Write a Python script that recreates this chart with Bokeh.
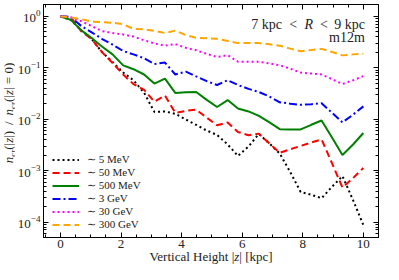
from bokeh.plotting import figure
from bokeh.layouts import row, column
from bokeh.models import (Legend, LegendItem, Label, LinearAxis, LogAxis, Div,
                          SingleIntervalTicker, LogTicker, CustomLabelingPolicy)
from bokeh.embed import file_html
from bokeh.resources import INLINE

# ---------------- data ----------------
z = [0.0, 0.34, 0.69, 1.03, 1.38, 1.72, 2.07, 2.41, 2.76, 3.10,
     3.45, 3.79, 4.14, 4.48, 4.83, 5.17, 5.52, 5.86, 6.21, 6.55,
     6.90, 7.24, 7.59, 7.93, 8.28, 8.62, 8.97, 9.31, 9.66, 10.0]

n_5MeV = [1.0, 0.860, 0.536, 0.364, 0.200, 0.130, 0.0810, 0.0574, 0.0329, 0.0139,
          0.0142, 0.01277, 0.00987, 0.00779, 0.00602, 0.00496, 0.00323, 0.00193, 0.00296, 0.00518,
          0.00337, 0.00215, 0.000930, 0.000385, 0.000339, 0.000291, 0.000488, 0.000783, 0.000267, 0.0000875]
n_50MeV = [1.0, 0.979, 0.514, 0.364, 0.200, 0.1245, 0.0743, 0.0484, 0.0374, 0.0219,
           0.0289, 0.0133, 0.01454, 0.01537, 0.01075, 0.00763, 0.00868, 0.00565, 0.00490, 0.00525,
           0.00337, 0.00222, 0.00261, 0.00303, 0.00352, 0.00406, 0.00137, 0.000468, 0.000718, 0.00113]
n_500MeV = [1.0, 0.860, 0.536, 0.380, 0.258, 0.183, 0.112, 0.0941, 0.0743, 0.0494,
            0.0618, 0.0325, 0.0336, 0.0339, 0.0238, 0.0173, 0.0236, 0.0162, 0.0142, 0.0116,
            0.00868, 0.00642, 0.00634, 0.00634, 0.00780, 0.00946, 0.00436, 0.00201, 0.00323, 0.00541]
n_3GeV = [1.0, 0.979, 0.651, 0.492, 0.364, 0.282, 0.213, 0.183, 0.154, 0.119,
          0.127, 0.0743, 0.0846, 0.0682, 0.0550, 0.0464, 0.0574, 0.0464, 0.0390, 0.0339,
          0.0277, 0.0214, 0.0201, 0.0191, 0.0196, 0.0205, 0.0133, 0.00868, 0.0123, 0.0178]
n_30GeV = [1.0, 0.966, 0.807, 0.651, 0.518, 0.478, 0.446, 0.406, 0.345, 0.300,
           0.270, 0.290, 0.245, 0.221, 0.187, 0.163, 0.176, 0.132, 0.132, 0.132,
           0.122, 0.112, 0.0962, 0.0810, 0.0776, 0.0743, 0.0600, 0.0484, 0.0574, 0.0691]
n_300GeV = [1.0, 0.958, 0.887, 0.796, 0.773, 0.756, 0.709, 0.572, 0.560, 0.525,
            0.478, 0.530, 0.433, 0.384, 0.377, 0.367, 0.334, 0.303, 0.303, 0.303,
            0.288, 0.270, 0.237, 0.211, 0.222, 0.234, 0.204, 0.175, 0.183, 0.189]

labels = ["\u223c 5 MeV", "\u223c 50 MeV", "\u223c 500 MeV",
          "\u223c 3 GeV", "\u223c 30 GeV", "\u223c 300 GeV"]
series = [n_5MeV, n_50MeV, n_500MeV, n_3GeV, n_30GeV, n_300GeV]
colors = ["black", "#ff0000", "#008000", "#0000ff", "#ff00ff", "#ffa500"]
dashes = ["2 3", "7 4", "solid", "8 3 2 3", "2 3", "7 4"]

FONT = "Liberation Serif"
TXT = "#222222"

YLAB_W = 14
MAIN_W = 383 - YLAB_W
MAIN_H = 250
XLAB_H = 14

p = figure(width=MAIN_W, height=MAIN_H, x_range=(-0.56, 10.5), y_range=(5.0e-5, 1.71),
           y_axis_type="log", output_backend="svg", toolbar_location=None,
           min_border_left=27, min_border_right=2, min_border_top=2, min_border_bottom=0)
p.xgrid.visible = False
p.ygrid.visible = False
p.outline_line_color = "black"
p.outline_line_width = 1
p.background_fill_color = "white"
p.border_fill_color = "white"

p.xaxis.ticker = SingleIntervalTicker(interval=2, num_minor_ticks=4)
p.yaxis.ticker = LogTicker(num_minor_ticks=10)

def style_axis(ax, show_labels=True, standoff=3):
    ax.major_tick_in = 5
    ax.major_tick_out = 0
    ax.minor_tick_in = 3
    ax.minor_tick_out = 0
    ax.axis_line_color = "black"
    ax.major_tick_line_color = "black"
    ax.minor_tick_line_color = "black"
    ax.major_label_text_font = FONT
    ax.major_label_text_color = TXT
    ax.axis_label_standoff = 0
    if show_labels:
        ax.major_label_text_font_size = "13px"
        ax.major_label_standoff = standoff
    else:
        ax.major_label_text_font_size = "1px"
        ax.major_label_standoff = 0
        ax.major_label_policy = CustomLabelingPolicy(code="return new Set()")

for ax in p.xaxis:
    style_axis(ax, standoff=2)
    ax.major_label_text_line_height = 1.0
for ax in p.yaxis:
    style_axis(ax, standoff=3)

top = LinearAxis(ticker=SingleIntervalTicker(interval=2, num_minor_ticks=4))
style_axis(top, False)
p.add_layout(top, "above")
right = LogAxis(ticker=LogTicker(num_minor_ticks=10))
style_axis(right, False)
p.add_layout(right, "right")

items = []
for lab, ys, c, d in zip(labels, series, colors, dashes):
    r = p.line(z, ys, line_color=c, line_width=2, line_dash=d)
    items.append(LegendItem(label=lab, renderers=[r]))

leg = Legend(items=items, location=(9, 6))
leg.glyph_width = 27
leg.glyph_height = 11
leg.label_height = 11
leg.label_standoff = 8
leg.spacing = 0
leg.padding = 0
leg.margin = 0
leg.border_line_alpha = 0
leg.background_fill_alpha = 0
leg.label_text_font = FONT
leg.label_text_font_size = "11px"
leg.label_text_line_height = 1.0
leg.label_text_color = TXT
p.add_layout(leg, "center")

def tlabel(x, y, text, align, style="normal", size="14px"):
    p.add_layout(Label(x=x, y=y, text=text, text_align=align,
                       text_baseline="alphabetic", text_font=FONT, text_font_size=size,
                       text_font_style=style, text_color=TXT))

# ---- annotation text (top right, data coordinates) ----
tlabel(6.30, 0.694, "7 kpc", "left")
tlabel(7.68, 0.694, "<", "center")
tlabel(8.20, 0.694, "R", "center", style="italic")
tlabel(8.70, 0.694, "<", "center")
tlabel(10.05, 0.694, "9 kpc", "right")
tlabel(10.05, 0.389, "m12m", "right")

# ---- axis titles as HTML (real text, italic / subscript) ----
ylab_html = (
    '<div style="position:absolute; left:4px; top:113px; white-space:nowrap; '
    f"font-family:'{FONT}'; font-size:13px; line-height:10px; color:{TXT}; "
    'transform-origin:left top; transform:rotate(-90deg) translateX(-50%);">'
    '<i>n</i><sub style="font-size:9px; vertical-align:-3px; line-height:0;">cr</sub>'
    '(|<i>z</i>|) &thinsp;/&thinsp; '
    '<i>n</i><sub style="font-size:9px; vertical-align:-3px; line-height:0;">cr</sub>'
    '(|<i>z</i>| = 0)</div>'
)
ydiv = Div(text=ylab_html, width=YLAB_W, height=MAIN_H, margin=(0, 0, 0, 0),
           styles={"position": "relative", "overflow": "visible"})

xlab_html = (
    '<div style="position:absolute; left:211px; top:0px; white-space:nowrap; '
    f"font-family:'{FONT}'; font-size:13px; line-height:13px; color:{TXT}; "
    'transform:translateX(-50%);">'
    'Vertical Height |<i>z</i>| [kpc]</div>'
)
xdiv = Div(text=xlab_html, width=383, height=XLAB_H, margin=(0, 0, 0, 0),
           styles={"position": "relative", "overflow": "visible"})

layout = column(row(ydiv, p, spacing=0), xdiv, spacing=0)
open("out.html", "w").write(file_html(layout, INLINE))
